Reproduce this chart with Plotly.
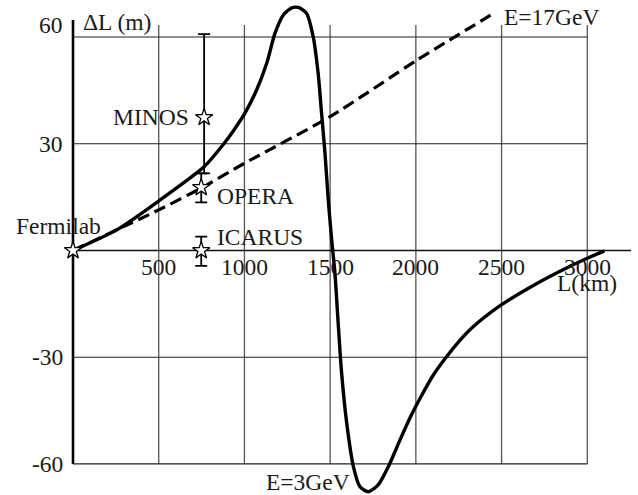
import plotly.graph_objects as go

# ---------------- data ----------------
L_E3 = [0, 255, 508, 766, 880, 935, 1003, 1071, 1130, 1178, 1227, 1276, 1314, 1362,
        1401, 1430, 1450, 1470, 1489, 1509, 1528, 1547, 1567, 1597, 1636, 1674, 1722,
        1780, 1839, 1907, 1966, 2024, 2102, 2180, 2258, 2323, 2498, 2693, 2888, 3000, 3100]
DL_E3 = [0, 5.8, 14.2, 23.6, 30.0, 33.6, 38.6, 45.1, 52.6, 61.0, 66.2, 68.2, 68.3, 66.7,
         60.1, 49.8, 38.6, 27.3, 14.2, 3.0, -6.4, -20.5, -34.5, -48.6, -60.8, -66.4, -67.8,
         -65.9, -60.8, -53.3, -47.0, -41.6, -35.0, -29.8, -25.2, -21.9, -15.3, -9.6, -4.7, -2.2, -0.1]

L_E17 = [0, 500, 750, 1000, 1500, 2000, 2456]
DL_E17 = [0, 11.4, 17.6, 24.5, 37.6, 53.3, 66.7]

exp_names = ["MINOS", "OPERA", "ICARUS"]
exp_L = [765, 748, 748]
exp_DL = [37.4, 17.7, 0.0]
exp_err_plus = [23.4, 4.0, 3.9]
exp_err_minus = [15.7, 4.2, 4.3]

origin_name = "Fermilab"
origin_L = [0]
origin_DL = [0]

x_ticks = [500, 1000, 1500, 2000, 2500, 3000]
x_tick_labels = ["500", "1000", "1500", "2000", "2500", "3000"]
y_ticks = [60, 30, -30, -60]
y_tick_labels = ["60", "30", "-30", "-60"]

label_E3 = "E=3GeV"
label_E17 = "E=17GeV"
x_title = "L(km)"
y_title = "ΔL (m)"

# ---------------- styling / layout constants ----------------
FONT = "Liberation Serif"
FS = 23.5
TXT = "#1a1a1a"
GRID_TOP = 63.4
AXIS_TOP = 64.8
X_AXIS_END = 3255
GRID_BOTTOM = min(y_ticks)
GRID_RIGHT = max(x_ticks)

fig = go.Figure()

# vertical grid lines
gx, gy = [], []
for v in x_ticks:
    gx += [v, v, None]
    gy += [GRID_BOTTOM, GRID_TOP, None]
fig.add_trace(go.Scatter(x=gx, y=gy, mode="lines", line=dict(color="#555555", width=1.3),
                         hoverinfo="skip", showlegend=False))
# horizontal grid lines
hx, hy = [], []
for v in y_ticks:
    hx += [0, GRID_RIGHT, None]
    hy += [v, v, None]
fig.add_trace(go.Scatter(x=hx, y=hy, mode="lines", line=dict(color="#222222", width=1.2),
                         hoverinfo="skip", showlegend=False))
# x axis line (y = 0)
fig.add_trace(go.Scatter(x=[0, X_AXIS_END], y=[0, 0], mode="lines",
                         line=dict(color="#111111", width=1.5), hoverinfo="skip", showlegend=False))
# y axis line (x = 0)
fig.add_trace(go.Scatter(x=[0, 0], y=[GRID_BOTTOM, AXIS_TOP], mode="lines",
                         line=dict(color="#000000", width=2.6), hoverinfo="skip", showlegend=False))

# curves
fig.add_trace(go.Scatter(x=L_E17, y=DL_E17, mode="lines",
                         line=dict(color="black", width=3.2, dash="12px,6px", shape="spline", smoothing=0.6),
                         showlegend=False, name=label_E17))
fig.add_trace(go.Scatter(x=L_E3, y=DL_E3, mode="lines",
                         line=dict(color="black", width=3.4, shape="spline", smoothing=0.7),
                         showlegend=False, name=label_E3))

# experiments with error bars
fig.add_trace(go.Scatter(
    x=exp_L, y=exp_DL, mode="markers",
    marker=dict(symbol="star", size=13, color="white", line=dict(color="black", width=1.3)),
    error_y=dict(type="data", array=exp_err_plus, arrayminus=exp_err_minus,
                 color="black", thickness=1.8, width=6),
    showlegend=False, name="experiments"))
# origin
fig.add_trace(go.Scatter(
    x=origin_L, y=origin_DL, mode="markers",
    marker=dict(symbol="star", size=13, color="white", line=dict(color="black", width=1.3)),
    showlegend=False, name=origin_name))

ann = []
f = dict(family=FONT, size=FS, color=TXT)

# tick labels
for v, t in zip(x_ticks, x_tick_labels):
    ann.append(dict(x=v, y=0, text=t, showarrow=False, xanchor="center", yanchor="middle",
                    yshift=-17, font=f))
for v, t in zip(y_ticks, y_tick_labels):
    ann.append(dict(x=0, y=v, text=t, showarrow=False, xanchor="right", yanchor="middle",
                    xshift=-8, yshift=12 if v == max(y_ticks) else 0, font=f))

# axis titles
ann.append(dict(x=0, y=AXIS_TOP, text=y_title, showarrow=False, xanchor="left", yanchor="middle",
                xshift=8, yshift=-2, font=f))
ann.append(dict(x=GRID_RIGHT, y=0, text=x_title, showarrow=False, xanchor="center", yanchor="middle",
                yshift=-33, font=f))

# experiment labels
offsets = {"MINOS": ("right", -13, 0), "OPERA": ("left", 14, -8), "ICARUS": ("left", 14, 13)}
for n, xv, yv in zip(exp_names, exp_L, exp_DL):
    anc, xs, ys = offsets[n]
    ann.append(dict(x=xv, y=yv, text=n, showarrow=False, xanchor=anc, yanchor="middle",
                    xshift=xs, yshift=ys, font=f))
ann.append(dict(x=origin_L[0], y=origin_DL[0], text=origin_name, showarrow=False, xanchor="right",
                yanchor="middle", xshift=30, yshift=24, font=f))

# curve labels
ann.append(dict(x=L_E17[-1], y=DL_E17[-1], text=label_E17, showarrow=False, xanchor="left",
                yanchor="middle", xshift=8, yshift=-4, font=f))
imin = DL_E3.index(min(DL_E3))
ann.append(dict(x=L_E3[imin], y=DL_E3[imin], text=label_E3, showarrow=False, xanchor="right",
                yanchor="middle", xshift=-16, yshift=10, font=f))

fig.update_layout(
    width=638, height=495,
    margin=dict(l=0, r=0, t=0, b=0),
    paper_bgcolor="white", plot_bgcolor="white",
    xaxis=dict(range=[-425.8, 3295.8], visible=False, fixedrange=True),
    yaxis=dict(range=[-68.72, 70.40], visible=False, fixedrange=True),
    annotations=ann,
    showlegend=False,
    hovermode=False,
)

fig.write_html("out.html",
               config={"displayModeBar": False, "staticPlot": True},
               post_script="document.body.style.margin='0';document.body.style.padding='0';")
